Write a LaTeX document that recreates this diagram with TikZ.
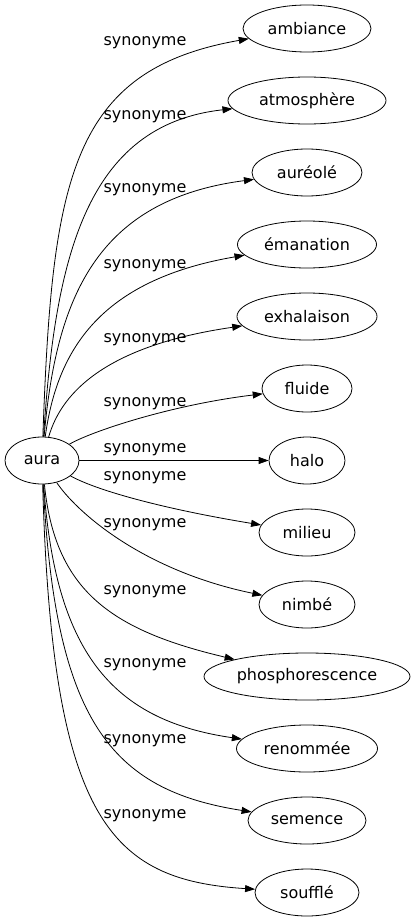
\documentclass[tikz,border=0pt]{standalone}
\usepackage{fontspec}
\setmainfont{DejaVu Sans}
\usetikzlibrary{arrows.meta, shapes.geometric}
\begin{document}
\begin{tikzpicture}[x = 1pt, y = -1pt, line width = 0.8pt,
        every node/.append style = {font = \fontsize{16}{19}\selectfont},
        word/.style = {draw, ellipse, minimum height = 47pt, inner xsep = 0pt},
        syn/.style = {-{Triangle[length = 10pt, width = 7pt]}}]
    \useasboundingbox (0,0) rectangle (414,923);
    \node[word, minimum width = 74pt] (aura) at (42,460.5) {aura};
    % widths read off the target, one per word
    \foreach \i/\w/\wlen in {0/ambiance/128, 1/atmosphère/158, 2/auréolé/110, 3/émanation/139, 4/exhalaison/140, 5/fluide/90, 6/halo/76, 7/milieu/96, 8/nimbé/96, 9/phosphorescence/206, 10/renommée/141, 11/semence/118, 12/soufflé/104} {
        \node[word, minimum width = \wlen pt] (w\i) at (307,28.5+72*\i) {\w};
    }
    % curved synonym links, control points by hand
    \foreach \i/\ax/\ay/\bx/\by/\ly in {0/52/180/70/70/43, 1/55/260/85/125/117, 2/56/300/95/200/190, 3/57/350/100/280/266, 4/62/390/110/345/340, 5/90/432/170/405/404, 7/100/492/170/510/478, 8/75/510/140/570/525, 9/55/590/110/630/592, 10/55/650/110/720/665, 11/55/720/110/790/741, 12/52/820/110/880/816} {
        \draw[syn] (aura) .. controls (\ax,\ay) and (\bx,\by) .. (w\i);
        \node (lab\i) at (145,\ly) {synonyme};
    }
    \draw[syn] (aura) -- (w6);
    \node (lab6) at (145,450) {synonyme};
\end{tikzpicture}
\end{document}
